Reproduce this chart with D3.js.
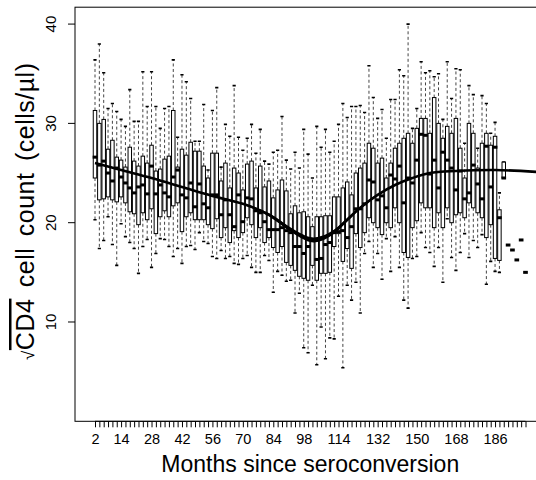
<!DOCTYPE html>
<html lang="en">
<head>
<meta charset="UTF-8">
<title>CD4 boxplot by month</title>
<script src="https://d3js.org/d3.v7.min.js"></script>
<style>
  body { margin: 0; background: #fff; }
  text { font-family: Arial, "Liberation Sans", Helvetica, sans-serif; fill: #000; }
</style>
</head>
<body>
<div id="chart"></div>
<script>

// one box per month (every second month)
var months = [2,4,6,8,10,12,14,16,18,20,22,24,26,28,30,32,34,36,38,40,
              42,44,46,48,50,52,54,56,58,60,62,64,66,68,70,72,74,76,78,80,
              82,84,86,88,90,92,94,96,98,100,102,104,106,108,110,112,114,116,118,120,
              122,124,126,128,130,132,134,136,138,140,142,144,146,148,150,152,154,156,158,160,
              162,164,166,168,170,172,174,176,178,180,182,184,186,188,190,192,194,196,198,200];

var lowWhisker = [20.3,17.4,18.2,20.6,17.8,15.7,19.9,18.6,18.0,17.4,
                  14.9,17.6,18.3,15.5,16.9,18.4,18.3,17.6,16.6,17.4,
                  15.9,17.6,17.7,17.3,19.0,18.1,17.9,16.6,16.4,17.2,
                  16.4,16.6,15.9,15.8,16.4,16.7,15.5,15.0,15.0,16.7,
                  16.2,13.0,15.1,14.7,14.1,14.2,10.9,12.9,7.4,6.9,
                  13.7,5.7,9.5,6.3,8.4,8.3,12.6,5.4,13.7,12.2,
                  14.0,10.9,16.9,18.1,15.5,16.9,14.3,18.4,15.1,18.6,
                  15.5,12.2,11.4,16.4,16.6,19.0,17.5,17.0,15.6,17.5,
                  14.0,20.4,16.5,15.2,17.0,18.9,16.5,18.2,17.5,18.8,
                  13.8,16.1,15.1,15.0,24.5,17.75,17.25,16.25,18.26,15.0];

var lowerQuartile = [24.5,22.3,22.4,22.6,22.3,22.1,22.6,22.0,21.1,20.9,
                     19.8,21.0,20.3,21.4,18.9,20.6,21.2,20.6,21.7,22.0,
                     19.1,20.6,21.0,20.3,20.3,20.3,19.8,19.4,20.4,18.5,
                     19.5,18.0,19.2,18.5,19.0,20.5,19.8,18.5,19.5,18.0,
                     18.5,17.5,17.0,17.6,16.0,15.7,15.2,14.6,14.4,14.2,
                     15.7,14.2,14.9,14.9,15.0,17.6,18.9,16.1,17.4,15.4,
                     18.9,17.5,19.0,20.5,20.0,19.5,18.8,20.0,19.5,21.5,
                     20.0,17.0,16.5,19.5,20.2,22.0,21.5,21.5,19.5,21.0,
                     19.5,21.5,20.0,20.8,21.0,20.5,22.0,21.5,21.0,20.5,
                     18.5,19.8,16.4,16.2,24.5,17.75,17.25,16.25,18.26,15.0];

var medians = [26.6,25.8,26.2,25.0,24.2,25.5,24.6,24.0,23.5,23.0,
               23.6,23.8,22.9,25.7,22.9,23.8,23.0,22.6,24.6,25.3,
               22.8,22.5,24.0,21.6,23.9,21.9,21.5,22.8,22.8,20.8,
               22.3,20.8,19.6,22.8,20.1,22.5,22.4,21.2,21.0,20.1,
               19.3,19.3,19.3,19.5,19.2,19.0,17.6,17.6,16.9,17.6,
               18.2,16.3,16.4,17.8,18.0,19.0,19.1,19.2,18.5,19.6,
               21.4,21.4,21.9,24.3,24.1,22.3,22.7,21.5,24.8,24.4,
               25.7,22.0,24.5,24.0,26.3,28.9,28.8,24.9,26.3,23.5,
               27.1,26.3,25.5,23.3,25.2,22.4,23.0,25.8,23.9,22.4,
               27.7,23.6,27.6,20.5,24.5,17.75,17.25,16.25,18.26,15.0];

var upperQuartile = [31.3,30.0,30.4,27.4,28.3,26.6,26.3,25.6,27.6,26.2,
                     25.7,26.7,26.0,27.8,25.2,25.4,26.4,26.7,31.3,25.6,
                     27.4,26.8,28.1,27.2,27.2,25.7,24.5,27.0,27.0,24.2,
                     26.0,23.5,25.5,25.0,23.3,25.9,26.2,23.5,25.7,23.6,
                     24.2,22.5,23.3,24.3,23.2,20.9,21.7,21.0,21.1,20.6,
                     19.6,20.6,20.6,20.7,20.7,22.6,22.6,23.5,24.1,22.8,
                     25.0,25.5,26.0,28.0,27.5,26.0,26.5,24.5,26.0,27.5,
                     28.0,28.5,29.0,28.0,29.5,30.5,30.5,29.0,32.6,30.0,
                     28.5,29.7,29.0,30.5,27.5,24.5,30.0,29.0,25.5,28.0,
                     29.0,27.8,28.7,21.3,26.1,17.75,17.25,16.25,18.26,15.0];

var highWhisker = [36.4,38.0,35.1,31.5,32.0,31.2,30.4,29.7,33.4,30.2,
                   30.2,35.2,31.7,35.2,31.7,29.5,31.5,31.7,36.4,28.6,
                   34.9,34.2,32.5,28.2,28.2,31.9,25.3,31.3,33.6,25.6,
                   29.9,28.7,33.8,28.6,27.3,28.5,29.9,27.0,29.4,26.2,
                   25.9,27.1,27.3,30.7,26.3,25.4,27.1,25.5,29.4,26.9,
                   24.5,29.7,27.6,29.4,27.1,28.2,29.9,32.0,30.6,31.7,
                   31.7,31.8,31.1,35.8,32.6,30.5,31.4,28.5,32.4,32.4,
                   35.4,34.8,40.0,29.5,31.5,36.2,35.1,35.3,34.7,35.0,
                   30.4,36.2,32.5,35.5,35.4,28.0,33.8,32.9,27.5,32.8,
                   32.0,29.0,30.1,23.0,26.1,17.75,17.25,16.25,18.26,15.0];

// labelled months on the x axis (the others only get a tick)
var tickLabels = [2,14,28,42,56,70,84,98,114,132,150,168,186];
var yTicks = [10,20,30,40];

// smooth fitted curve and its (narrow) band
var fitMonths = [2,14,28,42,56,70,82,92,101,106,112,118,124,132,140,148,156,168,186,206];
var fitValues = [26.0,25.3,24.5,23.6,22.7,21.9,20.8,19.3,18.3,18.4,19.1,20.3,21.5,22.8,23.8,24.5,25.0,25.2,25.3,25.1];
var fitBand   = [0.05,0.05,0.05,0.05,0.05,0.08,0.15,0.22,0.25,0.25,0.22,0.18,0.12,0.08,0.05,0.05,0.05,0.05,0.05,0.05];

var W = 536, H = 480;
var plot = {left: 75, right: 545.5, top: 7.2, bottom: 421.3};

var svg = d3.select("#chart").append("svg")
    .attr("width", W).attr("height", H);

var x = d3.scalePoint()
    .domain(months)
    .range([plot.left + 20, plot.right - 20]);

// same positions, but continuous in months (for the curve)
var xm = d3.scaleLinear()
    .domain([months[0], months[months.length - 1]])
    .range([x(months[0]), x(months[months.length - 1])]);

var y = d3.scaleLinear()
    .domain([0, 41.7])
    .range([plot.bottom, plot.top]);

var boxW = x.step() * 0.8;

svg.append("clipPath").attr("id", "clip")
  .append("rect")
    .attr("x", plot.left).attr("y", plot.top)
    .attr("width", plot.right - plot.left).attr("height", plot.bottom - plot.top);

var g = svg.append("g").attr("clip-path", "url(#clip)");

var rows = months.map(function(m, i) {
  return {m: m, lo: lowWhisker[i], q1: lowerQuartile[i], med: medians[i],
          q3: upperQuartile[i], hi: highWhisker[i]};
});
var boxes = rows.filter(function(d) { return d.hi > d.lo; });

// whiskers
g.selectAll(".wUp").data(boxes).enter().append("line")
    .attr("x1", function(d) { return x(d.m); }).attr("x2", function(d) { return x(d.m); })
    .attr("y1", function(d) { return y(d.q3); }).attr("y2", function(d) { return y(d.hi); })
    .attr("stroke", "#444").attr("stroke-width", 1).attr("stroke-dasharray", "3,2.5");
g.selectAll(".wDn").data(boxes).enter().append("line")
    .attr("x1", function(d) { return x(d.m); }).attr("x2", function(d) { return x(d.m); })
    .attr("y1", function(d) { return y(d.q1); }).attr("y2", function(d) { return y(d.lo); })
    .attr("stroke", "#444").attr("stroke-width", 1).attr("stroke-dasharray", "3,2.5");

// staples
["hi", "lo"].forEach(function(k) {
  g.selectAll(".cap" + k).data(boxes).enter().append("line")
      .attr("x1", function(d) { return x(d.m) - 1.6; })
      .attr("x2", function(d) { return x(d.m) + 1.6; })
      .attr("y1", function(d) { return y(d[k]); })
      .attr("y2", function(d) { return y(d[k]); })
      .attr("stroke", "#000").attr("stroke-width", 1.6);
});

// boxes
g.selectAll(".box").data(boxes).enter().append("rect")
    .attr("x", function(d) { return x(d.m) - boxW / 2; })
    .attr("y", function(d) { return y(d.q3); })
    .attr("width", boxW)
    .attr("height", function(d) { return y(d.q1) - y(d.q3); })
    .attr("fill", "#fff").attr("stroke", "#000").attr("stroke-width", 1);

// medians
g.selectAll(".med").data(rows).enter().append("rect")
    .attr("x", function(d) { return x(d.m) - boxW / 2 - 0.6; })
    .attr("y", function(d) { return y(d.med) - 1.5; })
    .attr("width", boxW + 1.2)
    .attr("height", 3)
    .attr("fill", "#000");

// fitted curve
var fit = fitMonths.map(function(m, i) { return {m: m, v: fitValues[i], b: fitBand[i]}; });
g.append("path").datum(fit)
    .attr("d", d3.area()
        .x(function(d) { return xm(d.m); })
        .y0(function(d) { return y(d.v - d.b); })
        .y1(function(d) { return y(d.v + d.b); })
        .curve(d3.curveCatmullRom))
    .attr("fill", "#000");
g.append("path").datum(fit)
    .attr("d", d3.line()
        .x(function(d) { return xm(d.m); })
        .y(function(d) { return y(d.v); })
        .curve(d3.curveCatmullRom))
    .attr("fill", "none").attr("stroke", "#000").attr("stroke-width", 2.6);

// frame
svg.append("rect")
    .attr("x", plot.left).attr("y", plot.top)
    .attr("width", plot.right - plot.left).attr("height", plot.bottom - plot.top)
    .attr("fill", "none").attr("stroke", "#000").attr("stroke-width", 1);

// x axis: a tick for every month, labels for a few
var xAxis = svg.append("g")
    .attr("transform", "translate(0," + plot.bottom + ")")
    .call(d3.axisBottom(x).tickSize(6).tickSizeOuter(0)
        .tickFormat(function(d) { return tickLabels.indexOf(d) >= 0 ? d : ""; }));
xAxis.select(".domain").attr("d", "M" + x(months[0]) + ",0H" + x(months[months.length - 1]));
xAxis.selectAll("text").attr("font-size", 14.5).attr("dy", "0.95em").attr("font-family", null);

// y axis
var yAxis = svg.append("g")
    .attr("transform", "translate(" + plot.left + ",0)")
    .call(d3.axisLeft(y).tickValues(yTicks).tickSize(7).tickSizeOuter(0));
yAxis.select(".domain").remove();
yAxis.selectAll(".tick").attr("transform", "translate(0,0)");
yAxis.selectAll(".tick line").attr("transform", function(d) { return "translate(0," + y(d) + ")"; });
yAxis.selectAll(".tick text")
    .attr("font-size", 15).attr("font-family", null)
    .attr("x", null).attr("y", 0).attr("dy", null)
    .attr("text-anchor", "middle")
    .attr("transform", function(d) { return "translate(-19.5," + y(d) + ") rotate(-90)"; });

// titles
svg.append("text")
    .attr("x", (plot.left + plot.right) / 2).attr("y", 472)
    .attr("text-anchor", "middle").attr("font-size", 23)
    .text("Months since seroconversion");

var yt = svg.append("text")
    .attr("transform", "translate(34," + ((plot.top + plot.bottom) / 2 - 3) + ") rotate(-90)")
    .attr("text-anchor", "middle").attr("font-size", 25)
    .style("word-spacing", "4px").style("letter-spacing", "0.5px");
yt.append("tspan").attr("font-size", 17).text("\u221A");
yt.append("tspan").attr("text-decoration", "overline").text("CD4");
yt.append("tspan").text(" cell count  (cells/\u00B5l)");

</script>
</body>
</html>
